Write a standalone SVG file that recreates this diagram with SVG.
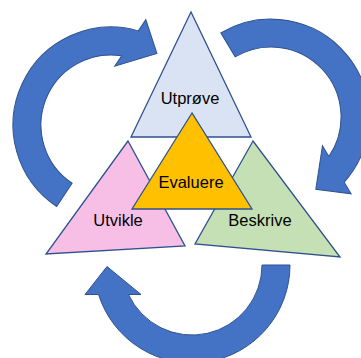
<svg xmlns="http://www.w3.org/2000/svg" width="361" height="358" viewBox="0 0 361 358">
  <style>
    .arrow { fill: #4472C4; stroke: #2F528F; stroke-width: 1; }
    .tri { stroke: #2F528F; stroke-width: 1.3; stroke-linejoin: miter; }
    .lbl { font-family: "Liberation Sans", Arial, sans-serif; font-size: 16.5px; fill: #000; text-anchor: middle; }
  </style>
  <defs>
    <path id="circArrow" d="M 98 0 A 98 98 0 0 1 -93.45 29.5 L -107 29.5 L -85 1.5 L -51 29.5 L -63.5 29.5 A 70 70 0 0 0 70 0 Z"/>
  </defs>
  <rect width="361" height="358" fill="#FFFFFF"/>
  <g id="connectors">
    <use href="#circArrow" class="arrow" transform="translate(111,125) rotate(123.7)"/>
    <use href="#circArrow" class="arrow" transform="translate(271,117) rotate(239.2)"/>
    <use href="#circArrow" class="arrow" transform="translate(192,265)"/>
  </g>
  <g id="utprove">
    <polygon class="tri" fill="#DAE3F3" points="191,12 131,137 251,137"/>
    <text class="lbl" x="190" y="104">Utprøve</text>
  </g>
  <g id="utvikle">
    <polygon class="tri" fill="#F8BFE6" points="128,141 46,254 185,246"/>
    <text class="lbl" x="118" y="225.7">Utvikle</text>
  </g>
  <g id="beskrive">
    <polygon class="tri" fill="#C5E0B4" points="253,141 195,244 340,257"/>
    <text class="lbl" x="260" y="225.7">Beskrive</text>
  </g>
  <g id="evaluere">
    <polygon class="tri" fill="#FFC000" points="192,113 132,209 252,209"/>
    <text class="lbl" x="191" y="188">Evaluere</text>
  </g>
</svg>
